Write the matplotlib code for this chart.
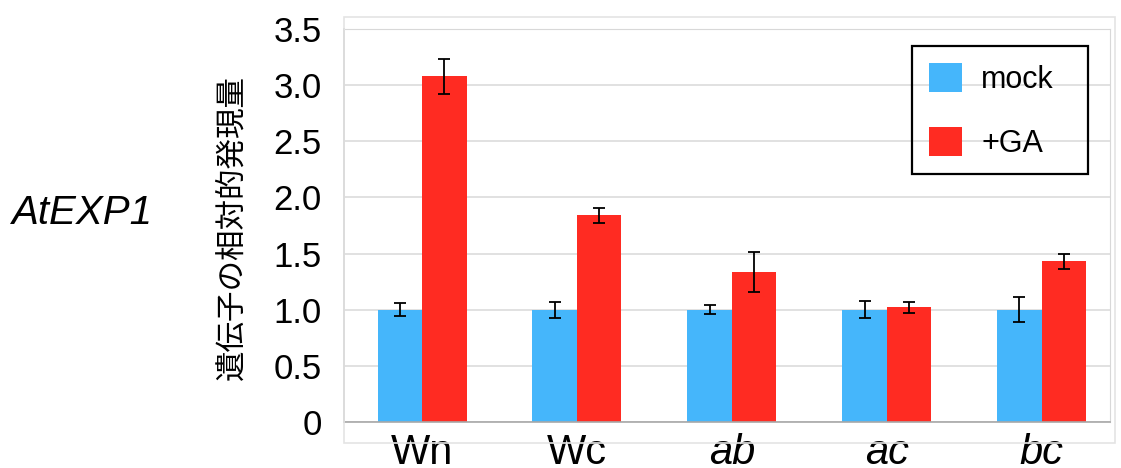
import matplotlib
matplotlib.use('Agg')
import matplotlib.pyplot as plt
from matplotlib.patches import Rectangle
import numpy as np

# Data
genotypes = ['Wn', 'Wc', 'ab', 'ac', 'bc']
italic_labels = [False, False, True, True, True]
mock = [1.0, 1.0, 1.0, 1.0, 1.0]
mock_err = [0.06, 0.07, 0.04, 0.075, 0.11]
ga = [3.08, 1.84, 1.335, 1.023, 1.43]
ga_err = [0.155, 0.065, 0.18, 0.05, 0.07]
series_names = ['mock', '+GA']
yticks = [0, 0.5, 1.0, 1.5, 2.0, 2.5, 3.0, 3.5]
ytick_labels = ['0', '0.5', '1.0', '1.5', '2.0', '2.5', '3.0', '3.5']

BLUE = '#45b6fb'
RED = '#ff2b22'

plt.rcParams['font.family'] = ['Liberation Sans', 'DejaVu Sans']

fig = plt.figure(figsize=(11.21, 4.68), dpi=100)
ax = fig.add_axes([0.307, 0.0983, 0.683, 0.8397])

x = np.arange(len(genotypes))
w = 0.287
ax.bar(x - w / 2, mock, w, color=BLUE, label=series_names[0], zorder=2)
ax.bar(x + w / 2, ga, w, color=RED, label=series_names[1], zorder=2)
ax.errorbar(x - w / 2, mock, yerr=mock_err, fmt='none', ecolor='black',
            elinewidth=1.3, capsize=4, capthick=1.3, zorder=3)
ax.errorbar(x + w / 2, ga, yerr=ga_err, fmt='none', ecolor='black',
            elinewidth=1.3, capsize=4, capthick=1.3, zorder=3)

ax.set_xlim(-0.503, 4.44)
ax.set_ylim(0, 3.5)
ax.set_yticks(yticks)
ax.set_yticklabels(ytick_labels, fontsize=25)
ax.set_xticks(x)
ax.set_xticklabels(genotypes, fontsize=30)
for lab, it in zip(ax.get_xticklabels(), italic_labels):
    if it:
        lab.set_style('italic')
ax.tick_params(axis='both', length=0)
ax.tick_params(axis='x', pad=8)
ax.tick_params(axis='y', pad=16)

ax.yaxis.grid(True, color='#dcdcdc', linewidth=1.2, zorder=0)
ax.set_axisbelow(True)
for s in ['left', 'bottom']:
    ax.spines[s].set_color('#a8a8a8')
    ax.spines[s].set_linewidth(1.2)
ax.spines['top'].set_color('#d8d8d8')
ax.spines['right'].set_color('#d8d8d8')

# legend: entries without frame, box drawn to the reference size
leg = ax.legend(loc='upper left', bbox_to_anchor=(0.7415, 0.957), fontsize=22,
                frameon=False, handlelength=1.1, handleheight=1.1,
                handletextpad=0.62, labelspacing=1.05, borderpad=0.55,
                borderaxespad=0)
ax.add_patch(Rectangle((0.7415, 0.631), 0.2295, 0.326, transform=ax.transAxes,
                       fill=False, edgecolor='black', linewidth=1.6, zorder=5))

# outer chart area frame
fig.patches.append(Rectangle((344 / 1121, 1 - 443 / 468), (1115 - 344) / 1121, (443 - 17) / 468,
                             transform=fig.transFigure, fill=False,
                             edgecolor='#e4e4e4', linewidth=1.2, zorder=0))

fig.text(232 / 1121, 0.513, '遺伝子の相対的発現量', rotation=90, fontsize=22,
         ha='center', va='center', family=['Noto Sans CJK JP', 'DejaVu Sans'])
fig.text(12 / 1121, 0.545, 'AtEXP1', fontsize=29, style='italic',
         ha='left', va='center')

fig.savefig('out.png', dpi=100)
